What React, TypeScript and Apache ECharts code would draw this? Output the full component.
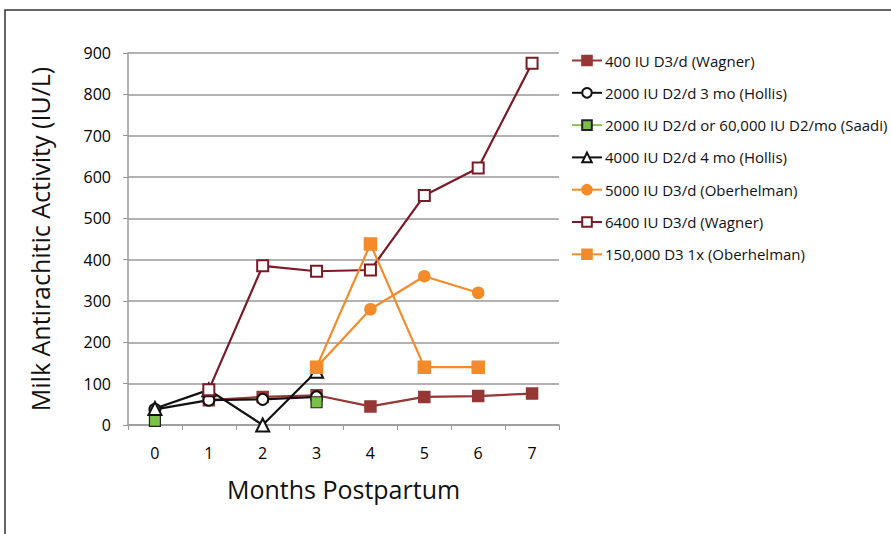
import React, { useEffect, useRef } from "react";
import * as echarts from "echarts";

const months = ["0", "1", "2", "3", "4", "5", "6", "7"];
const wagner400 = [null, 60, 68, 72, 45, 68, 70, 76];
const hollis2000 = [38, 60, 62, 68, null, null, null, null];
const saadi2000 = [10, null, null, 55, null, null, null, null];
const hollis4000 = [40, 85, 0, 130, null, null, null, null];
const oberhelman5000 = [null, null, null, 140, 280, 360, 320, null];
const wagner6400 = [null, 85, 385, 372, 375, 555, 622, 875];
const oberhelman150k = [null, null, null, 140, 438, 140, 140, null];

const seriesNames = [
  "400 IU D3/d (Wagner)",
  "2000 IU D2/d 3 mo (Hollis)",
  "2000 IU D2/d or 60,000 IU D2/mo (Saadi)",
  "4000 IU D2/d 4 mo (Hollis)",
  "5000 IU D3/d (Oberhelman)",
  "6400 IU D3/d (Wagner)",
  "150,000 D3 1x (Oberhelman)",
];

export default function App() {
  const ref = useRef<HTMLDivElement>(null);
  useEffect(() => {
    const chart = echarts.init(ref.current!, null, { renderer: "svg" });
    const font = "'Open Sans', 'Noto Sans', sans-serif";
    const mk = (
      name: string,
      data: (number | null)[],
      color: string,
      symbol: string,
      extra: any = {}
    ) => ({
      name,
      type: "line",
      data,
      symbol,
      symbolSize: 11,
      lineStyle: { color, width: 2.2 },
      itemStyle: { color, borderColor: color, borderWidth: 1.5 },
      connectNulls: false,
      ...extra,
    });
    chart.setOption({
      animation: false,
      backgroundColor: "#fff",
      textStyle: { fontFamily: font },
      grid: { left: 128, top: 53, right: 332, bottom: 109 },
      legend: {
        orient: "vertical",
        left: 566,
        top: 48,
        itemWidth: 30,
        itemHeight: 12,
        itemGap: 17.3,
        textStyle: { fontSize: 15, color: "#111", fontFamily: font, padding: [0, 0, 0, -2] },
        data: seriesNames,
      },
      xAxis: {
        type: "category",
        data: months,
        boundaryGap: true,
        name: "Months Postpartum",
        nameLocation: "middle",
        nameGap: 51,
        nameTextStyle: { fontSize: 25, color: "#111", fontFamily: font },
        axisLine: { lineStyle: { color: "#999", width: 1.5 } },
        axisTick: { show: true, alignWithLabel: false, length: 5, lineStyle: { color: "#999" } },
        axisLabel: { fontSize: 16, color: "#000", margin: 20 },
      },
      yAxis: {
        type: "value",
        min: 0,
        max: 900,
        interval: 100,
        name: "Milk Antirachitic Activity (IU/L)",
        nameLocation: "middle",
        nameGap: 76,
        nameTextStyle: { fontSize: 25, color: "#111", fontFamily: font },
        axisLine: { show: true, lineStyle: { color: "#999", width: 1.5 } },
        axisTick: { show: true, length: 5, lineStyle: { color: "#999" } },
        axisLabel: { fontSize: 16, color: "#000", margin: 17 },
        splitLine: { lineStyle: { color: "#999", width: 1.5 } },
      },
      graphic: [
        {
          type: "rect",
          shape: { x: 5, y: 10, width: 1000, height: 1000 },
          style: { fill: "none", stroke: "#333", lineWidth: 1.5 },
          silent: true,
        },
      ],
      series: [
        mk(seriesNames[0], wagner400, "#953735", "rect"),
        mk(seriesNames[1], hollis2000, "#111", "emptyCircle", {
          itemStyle: { color: "#111", borderColor: "#111", borderWidth: 1.8 },
        }),
        mk(seriesNames[2], saadi2000, "#8cc24f", "rect", {
          itemStyle: { color: "#7cc04a", borderColor: "#222", borderWidth: 1.2 },
          lineStyle: { color: "#8cc24f", width: 3 },
        }),
        mk(seriesNames[3], hollis4000, "#111", "emptyTriangle", {
          symbolSize: 13,
          itemStyle: { color: "#111", borderColor: "#111", borderWidth: 1.5 },
        }),
        mk(seriesNames[4], oberhelman5000, "#f38b2b", "circle"),
        mk(seriesNames[5], wagner6400, "#7a1a26", "emptyRect", {
          itemStyle: { color: "#7a1a26", borderColor: "#7a1a26", borderWidth: 1.5 },
        }),
        mk(seriesNames[6], oberhelman150k, "#f38b2b", "rect", { symbolSize: 12 }),
      ],
    });
    return () => chart.dispose();
  }, []);
  return (
    <div
      ref={ref}
      style={{ position: "fixed", left: 0, top: 0, width: 891, height: 534, background: "#fff" }}
    />
  );
}
